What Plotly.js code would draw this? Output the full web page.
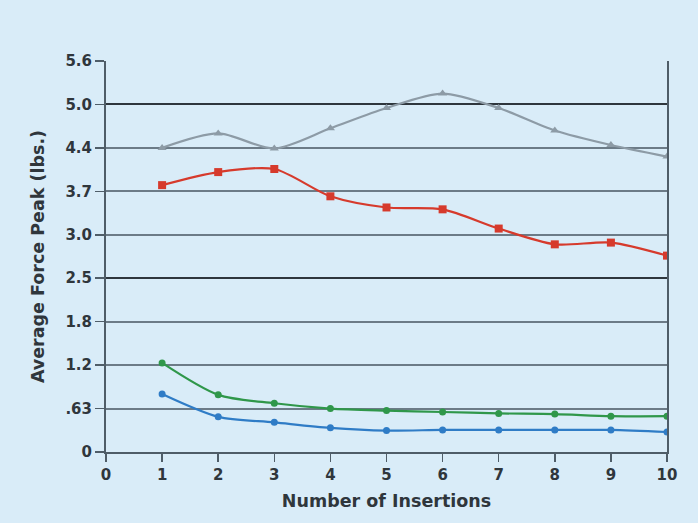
<!DOCTYPE html>
<html>
<head>
<meta charset="utf-8">
<script src="https://cdn.plot.ly/plotly-3.0.1.min.js"></script>
<style>
  html, body { margin: 0; padding: 0; background: #d9ecf8; }
  #chart { width: 698px; height: 523px; }
</style>
</head>
<body>
<div id="chart"></div>
<script>
// Data
const insertions = [1, 2, 3, 4, 5, 6, 7, 8, 9, 10];
const grayValues  = [4.40, 4.60, 4.39, 4.67, 4.95, 5.15, 4.95, 4.64, 4.44, 4.26];
const redValues   = [3.80, 4.01, 4.06, 3.62, 3.44, 3.41, 3.10, 2.89, 2.91, 2.76];
const greenValues = [1.23, 0.81, 0.70, 0.63, 0.60, 0.58, 0.56, 0.55, 0.52, 0.52];
const blueValues  = [0.82, 0.51, 0.43, 0.35, 0.31, 0.32, 0.32, 0.32, 0.32, 0.29];

// The y axis has evenly spaced ticks with these (non-linear) labels
const yTickValues = [0, 0.63, 1.2, 1.8, 2.5, 3.0, 3.7, 4.4, 5.0, 5.6];
const yTickLabels = ["0", ".63", "1.2", "1.8", "2.5", "3.0", "3.7", "4.4", "5.0", "5.6"];
const xTickValues = [0, 1, 2, 3, 4, 5, 6, 7, 8, 9, 10];
const majorLabels = ["2.5", "5.0"];

// piecewise-linear scale: value -> evenly spaced tick index
function toPos(v) {
  for (let i = 0; i < yTickValues.length - 1; i++) {
    const a = yTickValues[i], b = yTickValues[i + 1];
    if (v <= b || i === yTickValues.length - 2) {
      return i + (v - a) / (b - a);
    }
  }
}
const idx = yTickValues.map((_, i) => i);
const majorIdx = majorLabels.map(l => yTickLabels.indexOf(l));

function series(vals, color, symbol, size) {
  return {
    x: insertions,
    y: vals.map(toPos),
    customdata: vals,
    type: 'scatter',
    mode: 'lines+markers',
    line: { color: color, width: 2.2, shape: 'spline', smoothing: 0.8 },
    marker: { color: color, symbol: symbol, size: size },
    hovertemplate: '%{x}: %{customdata}<extra></extra>',
    showlegend: false
  };
}

const traces = [
  series(grayValues, '#8d9ba6', 'triangle-up', 8),
  series(redValues, '#d63a2c', 'square', 8),
  series(greenValues, '#2f974a', 'circle', 7),
  series(blueValues, '#2f7cc6', 'circle', 7)
];

const fontFam = 'DejaVu Sans, Liberation Sans, Arial, sans-serif';
const textColor = '#2f363c';
const layout = {
  width: 698, height: 523,
  paper_bgcolor: '#d9ecf8',
  plot_bgcolor: '#d9ecf8',
  margin: { l: 106, r: 31, t: 61, b: 71 },
  font: { family: fontFam, color: textColor, size: 15 },
  xaxis: {
    range: [0, 10],
    tickvals: xTickValues,
    ticktext: xTickValues.map(String),
    ticks: 'outside', ticklen: 8, tickwidth: 1.5, tickcolor: '#4f5d68',
    showgrid: false, zeroline: false,
    showline: true, linecolor: '#4f5d68', linewidth: 2,
    tickfont: { family: fontFam, size: 15, color: textColor, weight: 'bold' },
    title: { text: 'Number of Insertions', font: { family: fontFam, size: 17.5, color: textColor, weight: 'bold' }, standoff: 12 }
  },
  yaxis: {
    range: [0, 9],
    tickvals: idx,
    ticktext: yTickLabels,
    ticks: 'outside', ticklen: 9, tickwidth: 1.5, tickcolor: '#4f5d68',
    showgrid: true, gridcolor: '#6c7b87', gridwidth: 2,
    zeroline: false,
    showline: true, linecolor: '#4f5d68', linewidth: 2, mirror: true,
    tickfont: { family: fontFam, size: 15, color: textColor, weight: 'bold' },
    title: { text: 'Average Force Peak (lbs.)', font: { family: fontFam, size: 17.5, color: textColor, weight: 'bold' }, standoff: 16 }
  },
  yaxis2: {
    range: [0, 9],
    overlaying: 'y',
    tickvals: majorIdx,
    showticklabels: false,
    showgrid: true, gridcolor: '#2e363d', gridwidth: 2,
    zeroline: false, showline: false, ticks: ''
  }
};

// dummy trace so the darker major gridlines on yaxis2 are drawn
traces.unshift({ x: [null], y: [null], yaxis: 'y2', type: 'scatter', showlegend: false, hoverinfo: 'skip' });

Plotly.newPlot('chart', traces, layout, { displayModeBar: false, staticPlot: true });
</script>
</body>
</html>
